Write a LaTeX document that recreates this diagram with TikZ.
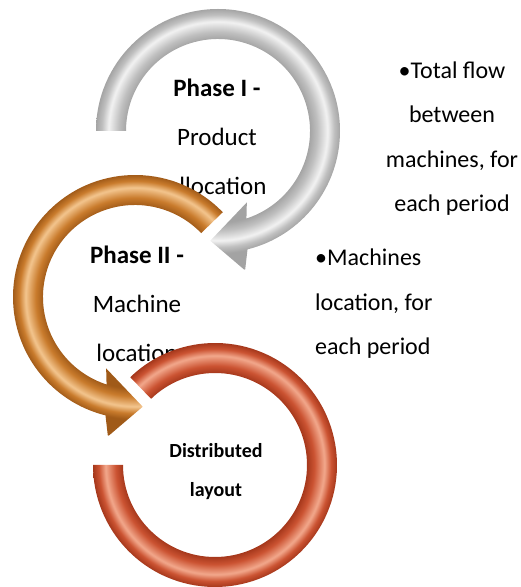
\documentclass[tikz,border=0pt]{standalone}
\usepackage{fontspec}
\setmainfont{Carlito}

\definecolor{greydark}{HTML}{A3A3A3}
\definecolor{greybase}{HTML}{BFBFBF}
\definecolor{greylight}{HTML}{F2F2F2}
\definecolor{bronzedark}{HTML}{A05A18}
\definecolor{bronzebase}{HTML}{C97B2C}
\definecolor{bronzelight}{HTML}{F3C58E}
\definecolor{rustdark}{HTML}{A3361A}
\definecolor{rustbase}{HTML}{CB5332}
\definecolor{rustlight}{HTML}{F2A88C}

% tube look for the rings (25bp = radius 141)
\pgfdeclareradialshading{greytube}{\pgfpoint{0bp}{0bp}}{color(0bp)=(greydark); color(16.2bp)=(greydark); color(17.6bp)=(greybase); color(19.4bp)=(greylight); color(20.6bp)=(greybase); color(21.7bp)=(greydark); color(25bp)=(greydark)}
\pgfdeclareradialshading{bronzetube}{\pgfpoint{0bp}{0bp}}{color(0bp)=(bronzedark); color(16.2bp)=(bronzedark); color(17.6bp)=(bronzebase); color(19.4bp)=(bronzelight); color(20.6bp)=(bronzebase); color(21.7bp)=(bronzedark); color(25bp)=(bronzedark)}
\pgfdeclareradialshading{rusttube}{\pgfpoint{0bp}{0bp}}{color(0bp)=(rustdark); color(16.2bp)=(rustdark); color(17.6bp)=(rustbase); color(19.4bp)=(rustlight); color(20.6bp)=(rustbase); color(21.7bp)=(rustdark); color(25bp)=(rustdark)}

% text blocks sit on the baseline of their last line
\tikzset{
  phasetext/.style={font=\fontsize{25}{49}\selectfont, align=center, anchor=base, inner sep=0pt},
  endtext/.style={font=\fontsize{20}{39}\selectfont\bfseries, align=center, anchor=base, inner sep=0pt},
  sidetext/.style={font=\fontsize{24}{44.5}\selectfont, anchor=base, inner sep=0pt}
}

\begin{document}
\begin{tikzpicture}[x=1pt,y=1pt]
  \useasboundingbox (0,0) rectangle (520,587);

  % Phase I ring (grey)
  \begin{scope}[shift={(218,456)}]
    \begin{scope}
      \clip (180:122) arc[start angle=180,end angle=-76,radius=122] -- (-79:142) -- (-94:110)
        -- (-68:77) -- (-72:92) arc[start angle=-72,end angle=180,radius=92] -- cycle;
      \shade[shading=greytube] (0,0) circle (141);
    \end{scope}
    \node[phasetext] (phaseI) at (-1,-64) {\textbf{Phase I -}\\Product\\allocation};
  \end{scope}

  % Phase II ring (bronze)
  \begin{scope}[shift={(135,290)}]
    \begin{scope}
      \clip (44:122) arc[start angle=44,end angle=256,radius=122] -- (259:142) -- (274:110)
        -- (248:77) -- (252:92) arc[start angle=252,end angle=44,radius=92] -- cycle;
      \shade[shading=bronzetube] (0,0) circle (141);
    \end{scope}
    \node[phasetext] (phaseII) at (2,-65) {\textbf{Phase II -}\\Machine\\location};
  \end{scope}

  % last ring, no head
  \begin{scope}[shift={(215,122)}]
    \begin{scope}
      \clip (134:122) arc[start angle=134,end angle=-180,radius=122]
        -- (-180:92) arc[start angle=-180,end angle=134,radius=92] -- cycle;
      \shade[shading=rusttube] (0,0) circle (141);
    \end{scope}
    \node[endtext] (layout) at (1,-32) {Distributed\\layout};
  \end{scope}

  % outputs of each phase
  \node[sidetext, align=center] (flowout) at (452,375) {•Total flow\\between\\machines, for\\each period};
  \node[sidetext, align=left, anchor=base west] (locout) at (315,232) {•Machines\\location, for\\each period};
\end{tikzpicture}
\end{document}
